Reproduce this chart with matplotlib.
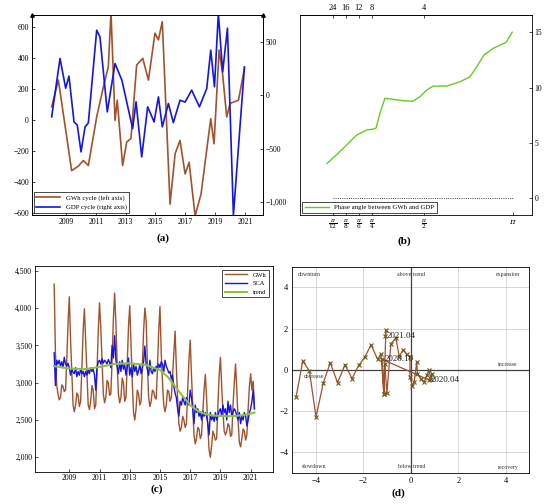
import numpy as np
import matplotlib
matplotlib.use('Agg')
import matplotlib.pyplot as plt
from matplotlib.ticker import FuncFormatter

plt.rcParams['font.family'] = ['Liberation Serif', 'DejaVu Serif']
plt.rcParams['mathtext.fontset'] = 'dejavuserif'
plt.rcParams['axes.linewidth'] = 0.6
plt.rcParams['axes.unicode_minus'] = True

BROWN = '#a0522d'
BLUE = '#1414e6'
GREEN_B = '#66cc22'
GREEN_C = '#8cc23c'

# ---- (a) cycles -------------------------------------------------------
gwh_cyc_t = [2008.04, 2008.49, 2009.38, 2009.83, 2010.16, 2010.50, 2011.06, 2011.51, 2011.84,
             2012.02, 2012.29, 2012.44, 2012.80, 2013.07, 2013.36, 2013.74, 2014.15, 2014.53,
             2014.97, 2015.20, 2015.46, 2015.98, 2016.32, 2016.65, 2016.99, 2017.26, 2017.66,
             2018.06, 2018.71, 2018.93, 2019.27, 2019.49, 2019.78, 2020.01, 2020.57, 2020.97]
gwh_cyc = [82, 255, -329, -300, -264, -296, 17, 211, 341,
           690, -5, 125, -296, -145, -122, 352, 395, 255,
           557, 514, 632, -545, -220, -134, -350, -275, -620,
           -480, 6, -156, 449, 308, 17, 105, 125, 330]

gdp_cyc_t = [2008.04, 2008.60, 2008.98, 2009.20, 2009.54, 2009.76, 2010.01, 2010.28, 2010.50,
             2011.06, 2011.28, 2011.77, 2012.29, 2012.75, 2013.47, 2013.70, 2014.08, 2014.48,
             2014.91, 2015.20, 2015.46, 2015.87, 2016.20, 2016.65, 2016.99, 2017.43, 2017.95,
             2018.44, 2018.71, 2018.96, 2019.22, 2019.51, 2019.83, 2020.23, 2020.97]
gdp_cyc = [-203, 343, 65, 178, -250, -280, -530, -296, -260,
           607, 545, -156, 296, 140, -312, -63, -577, -109,
           -250, -16, -296, -78, -257, -47, -65, 47, -109,
           62, 420, 78, 763, 218, 626, -1121, 264]

# ---- (b) phase angle ---------------------------------------------------
freq_pos = [1, 2, 3, 4, 8, 14.85]
freq_lbl = [r'$\frac{\pi}{12}$', r'$\frac{\pi}{8}$', r'$\frac{\pi}{6}$', r'$\frac{\pi}{4}$',
            r'$\frac{\pi}{2}$', r'$\pi$']
period_lbl = ['24', '16', '12', '8', '4']
phase_x = [0.58, 1.43, 2.08, 2.85, 3.62, 4.0, 4.33, 4.64, 5.02, 5.66, 6.43, 7.15, 7.72,
           8.23, 8.74, 9.77, 10.8, 11.56, 12.08, 12.64, 13.35, 14.33, 14.8]
phase_y = [3.16, 4.07, 4.81, 5.72, 6.17, 6.23, 6.32, 7.68, 9.03, 8.94, 8.82, 8.76, 9.18,
           9.78, 10.14, 10.14, 10.53, 10.98, 11.89, 12.95, 13.55, 14.09, 15.0]

# ---- (c) monthly GWh, SCA, trend (Jan 2008 .. Apr 2021) ---------------
gwh = [4320, 3400, 2970, 2850, 2770, 2800, 2970, 2950, 2880, 2900, 3300, 3800,
       4150, 3580, 3150, 2700, 2610, 2700, 2860, 2830, 2680, 2750, 3200, 3700,
       3990, 3550, 3100, 2700, 2640, 2750, 2960, 2900, 2650, 2700, 3150, 3700,
       4070, 3740, 3300, 2850, 2730, 2800, 3030, 3000, 2830, 2850, 3300, 3850,
       4200, 3800, 3250, 2850, 2730, 2800, 3060, 3000, 2750, 2800, 3250, 3750,
       4030, 3520, 3000, 2600, 2500, 2650, 2900, 2850, 2700, 2750, 3200, 3700,
       4000, 3830, 3250, 2800, 2680, 2750, 2900, 2880, 2800, 2780, 3200, 3700,
       4020, 3400, 3000, 2700, 2610, 2700, 2900, 2880, 2750, 2800, 3100, 3400,
       3690, 3200, 2800, 2450, 2350, 2400, 2550, 2500, 2400, 2450, 2900, 3300,
       3570, 3100, 2700, 2300, 2180, 2250, 2400, 2380, 2250, 2300, 2600, 2900,
       3110, 2800, 2400, 2100, 2000, 2150, 2350, 2300, 2230, 2250, 2700, 3100,
       3340, 2950, 2600, 2350, 2300, 2350, 2450, 2420, 2280, 2300, 2700, 3000,
       3250, 2900, 2500, 2200, 2140, 2250, 2380, 2350, 2230, 2300, 2650, 2950,
       3120, 2900, 3020, 2650]
sca = [3400, 2960, 3300, 3250, 3300, 3220, 3280, 3200, 3340, 3250, 3220, 3260,
       3200, 3100, 3180, 3140, 3120, 3200, 3080, 3150, 3100, 3180, 3120, 3150,
       3080, 3150, 3100, 3170, 3120, 3200, 3150, 3180, 3100, 2900, 3200, 3280,
       3300, 3250, 3320, 3260, 3300, 3280, 3250, 3310, 3270, 3200, 3500, 3330,
       3630, 3300, 3220, 3120, 3280, 3150, 3300, 3180, 3240, 3100, 3220, 3330,
       3100, 3200, 3080, 3250, 3150, 3220, 3100, 3160, 3240, 3120, 3200, 3280,
       3490, 3250, 3180, 3100, 3300, 3150, 3120, 3200, 3150, 3220, 3180, 3250,
       3200, 3280, 3250, 3150, 3300, 3220, 3180, 3130, 3150, 3050, 3100, 2950,
       2860, 2800, 2650, 2550, 2750, 2700, 2800, 2750, 2700, 2800, 2720, 2700,
       2900, 2800, 2650, 2450, 2700, 2600, 2650, 2550, 2600, 2500, 2620, 2550,
       2600, 2550, 2450, 2300, 2600, 2500, 2550, 2480, 2600, 2500, 2550, 2620,
       2650, 2550, 2700, 2600, 2650, 2500, 2750, 2600, 2700, 2550, 2600, 2650,
       2620, 2550, 2500, 2600, 2450, 2550, 2500, 2600, 2550, 2420, 2500, 2600,
       2650, 2750, 2900, 2650]
trend_t = [2008, 2009, 2010, 2011, 2012, 2013, 2014, 2015, 2015.5, 2016, 2016.5, 2017,
           2017.5, 2018, 2018.5, 2019, 2019.5, 2020, 2020.5, 2021, 2021.25]
trend = [3220, 3190, 3180, 3210, 3250, 3260, 3240, 3170, 3080, 2950, 2820, 2700,
         2620, 2580, 2560, 2555, 2550, 2555, 2565, 2585, 2600]
months = 2008 + np.arange(len(gwh)) / 12.0

# ---- (d) clock --------------------------------------------------------
clock_x = [-4.84, -4.56, -4.28, -4.00, -3.69, -3.40, -3.09, -2.78, -2.48, -2.20, -1.94,
           -1.68, -1.40, -1.26, -1.14, -1.10, -1.01, -0.84, -0.63, -0.49, -0.32, -0.17,
           -0.03, -0.04, 0.07, 0.14, 0.25, 0.28, 0.42, 0.56, 0.67, 0.77, 0.84, 0.91,
           0.77, -1.20, -1.14, -1.05, -1.08]
clock_y = [-1.32, 0.42, -0.06, -2.29, -0.63, 0.34, -0.63, 0.24, -0.43, 0.21, 0.61,
           1.21, 0.50, 0.77, -1.16, 0.29, -1.13, 1.26, 1.55, 0.64, 0.97, 0.74,
           0.61, -0.35, -0.81, -0.60, 0.37, -0.19, -0.44, -0.60, -0.28, -0.03, -0.44, -0.19,
           -0.50, 0.50, -1.16, 1.93, 1.66]
clock_lbl = {34: '2020.04', 35: '2020.10', 38: '2021.04'}
quad_txt = [(-4.3, 4.6, 'downturn'), (0, 4.6, 'above trend'), (4.1, 4.6, 'expansion'),
            (4.1, 0.25, 'increase'), (-4.1, -0.35, 'decrease'),
            (-4.1, -4.7, 'slowdown'), (0, -4.7, 'below trend'), (4.1, -4.75, 'recovery')]

fs = 5.5
comma = FuncFormatter(lambda v, p: '{:,.0f}'.format(v).replace('-', '\u2212'))

fig = plt.figure(figsize=(5.5, 5.04), dpi=100)

# (a)
ax1 = fig.add_axes([0.0576, 0.5734, 0.421, 0.397])
ax1r = ax1.twinx()
l1, = ax1.plot(gwh_cyc_t, gwh_cyc, color=BROWN, lw=1.2)
l2, = ax1r.plot(gdp_cyc_t, gdp_cyc, color=BLUE, lw=1.2)
ax1.set_xlim(2006.7, 2022.23)
ax1.set_ylim(-615, 675)
ax1r.set_ylim(-1120, 750)
ax1.set_xticks(range(2009, 2022, 2))
ax1.set_yticks(range(-600, 601, 200))
ax1r.set_yticks([-1000, -500, 0, 500])
ax1r.yaxis.set_major_formatter(comma)
ax1.yaxis.set_major_formatter(comma)
for a in (ax1, ax1r):
    a.tick_params(direction='in', length=2, width=0.5, labelsize=fs, pad=2)
ax1.plot([0, 1], [1, 1], transform=ax1.transAxes, ls='none', marker='^', color='k',
         ms=2.5, clip_on=False)
leg = ax1r.legend([l1, l2], ['GWh cycle (left axis)', 'GDP cycle (right axis)'],
                  loc='lower left', fontsize=4.9, fancybox=False, edgecolor='k',
                  framealpha=1, handlelength=3.5, borderaxespad=0.3)
leg.get_frame().set_linewidth(0.5)

# (b)
ax2 = fig.add_axes([0.5455, 0.5734, 0.4213, 0.397])
ax2.plot(phase_x, phase_y, color=GREEN_B, lw=1.0, label='Phase angle between GWh and GDP')
ax2.plot([freq_pos[0], freq_pos[-1]], [0, 0], color='k', ls=':', lw=0.6)
ax2.set_xlim(-1.5, 16.3)
ax2.set_ylim(-1.5, 16.56)
ax2.set_xticks(freq_pos)
ax2.set_xticklabels(freq_lbl)
ax2.set_yticks([0, 5, 10, 15])
ax2.yaxis.tick_right()
ax2.tick_params(direction='in', length=2, width=0.5, labelsize=fs, pad=2)
ax2.tick_params(axis='x', labelsize=6)
top = ax2.secondary_xaxis('top')
top.set_xticks(freq_pos[:5])
top.set_xticklabels(period_lbl)
top.tick_params(direction='in', length=2, width=0.5, labelsize=fs + 0.5, pad=2)
leg = ax2.legend(loc='lower left', fontsize=4.9, fancybox=False, edgecolor='k',
                 framealpha=1, handlelength=3.5, borderaxespad=0.3)
leg.get_frame().set_linewidth(0.5)

# (c)
ax3 = fig.add_axes([0.0636, 0.0641, 0.432, 0.4087])
ax3.plot(months, gwh, color=BROWN, lw=1.0, label='GWh')
ax3.plot(months, sca, color=BLUE, lw=1.0, label='SCA')
ax3.plot(trend_t, trend, color=GREEN_C, lw=1.5, label='trend')
ax3.set_xlim(2006.73, 2022.45)
ax3.set_ylim(1807, 4567)
ax3.set_xticks(range(2009, 2022, 2))
ax3.set_yticks(range(2000, 4501, 500))
ax3.yaxis.set_major_formatter(comma)
ax3.tick_params(direction='in', length=2, width=0.5, labelsize=fs, pad=2)
leg = ax3.legend(loc='upper right', fontsize=4.6, fancybox=False, edgecolor='k',
                 framealpha=1, handlelength=3.5, borderaxespad=0.6)
leg.get_frame().set_linewidth(0.5)

# (d)
ax4 = fig.add_axes([0.5315, 0.0621, 0.4309, 0.4087])
ax4.grid(True, color='#c8c8c8', lw=0.5)
ax4.axhline(0, color='#404040', lw=0.9)
ax4.axvline(0, color='#404040', lw=0.9)
ax4.plot(clock_x, clock_y, color=BROWN, lw=0.9, marker='x', ms=3, mew=0.8,
         mec='#6b5a1e')
for i, s in clock_lbl.items():
    ax4.text(clock_x[i] + 0.08, clock_y[i], s, fontsize=6.5, va='center', ha='left',
             color='#222222')
for x, y, s in quad_txt:
    ax4.text(x, y, s, fontsize=4.2, ha='center', va='center', color='#333333')
ax4.set_xlim(-5, 5)
ax4.set_ylim(-5, 5)
ax4.set_xticks([-4, -2, 0, 2, 4])
ax4.set_yticks([-4, -2, 0, 2, 4])
ax4.set_axisbelow(True)
ax4.tick_params(direction='in', length=0, labelsize=fs + 0.5, pad=3)

for x, y, s in [(0.296, 0.528, '(a)'), (0.735, 0.522, '(b)'),
                (0.285, 0.029, '(c)'), (0.725, 0.021, '(d)')]:
    fig.text(x, y, s, fontsize=8, fontweight='bold', ha='center', va='center')

fig.savefig('out.png', dpi=100)
